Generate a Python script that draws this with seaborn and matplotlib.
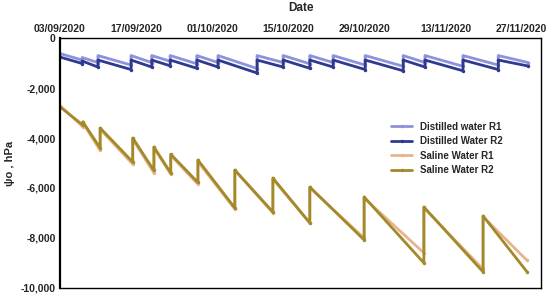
'''
Potentiel osmotique des solutions (eau distillee / eau saline) au cours du temps.
'''

import matplotlib
matplotlib.use("Agg")
import matplotlib.pyplot as plt
import matplotlib.dates as mdates
from matplotlib.ticker import FuncFormatter
import pandas as pd
import seaborn as sns

START = pd.Timestamp("2020-09-03")

# Eau distillee : jours depuis le 03/09 (creux puis pic a chaque apport)
dist_days = [0, 4.1, 4.1, 7.0, 7.0, 13.1, 13.1, 16.9, 16.9, 20.3, 20.3, 25.2, 25.2,
             29.1, 29.1, 36.3, 36.3, 41.1, 41.1, 46.0, 46.0, 50.3, 50.3, 56.2, 56.2,
             63.2, 63.2, 67.2, 67.2, 74.2, 74.2, 80.7, 80.7, 86.2]
dist_r1 = [-620, -880, -780, -980, -700, -1080, -700, -980, -700, -930, -700, -1030, -700,
           -980, -700, -1220, -700, -980, -700, -1030, -700, -980, -700, -1080, -700,
           -1130, -700, -980, -700, -1130, -700, -1080, -700, -980]
dist_r2 = [-760, -1020, -920, -1160, -880, -1260, -880, -1160, -880, -1110, -880, -1210, -880,
           -1160, -880, -1400, -880, -1160, -880, -1210, -880, -1160, -880, -1260, -880,
           -1310, -880, -1160, -880, -1310, -880, -1260, -880, -1120]

# Eau saline
sal_days = [0, 4.2, 4.2, 7.4, 7.4, 13.4, 13.4, 17.3, 17.3, 20.4, 20.4, 25.4, 25.4,
            32.2, 32.2, 39.2, 39.2, 46.0, 46.0, 56.0, 56.0, 67.0, 67.0, 77.9, 77.9, 86.0]
sal_r1 = [-2700, -3550, -3400, -4500, -3650, -5050, -4050, -5400, -4400, -5450, -4700, -5850, -4950,
          -6850, -5300, -7000, -5650, -7400, -6000, -8000, -6400, -8600, -6800, -9250, -7150, -8900]
sal_r2 = [-2750, -3480, -3350, -4400, -3600, -4960, -4000, -5300, -4360, -5400, -4650, -5780, -4880,
          -6800, -5280, -6960, -5600, -7400, -5960, -8080, -6360, -9000, -6760, -9360, -7120, -9360]

tick_dates = ["2020-09-03", "2020-09-17", "2020-10-01", "2020-10-15",
              "2020-10-29", "2020-11-13", "2020-11-27"]

series = [
    ("Distilled water R1", dist_days, dist_r1, "#8e92dc"),
    ("Distilled Water R2", dist_days, dist_r2, "#2f3a8f"),
    ("Saline Water R1", sal_days, sal_r1, "#e9b48c"),
    ("Saline Water R2", sal_days, sal_r2, "#a2892a"),
]

sns.set_style("white")
plt.rcParams['font.family'] = ['Liberation Sans', 'DejaVu Sans']
plt.rcParams['font.weight'] = 'bold'

fig = plt.figure(figsize=(5.5, 2.95), dpi=100)
ax = fig.add_axes([0.109, 0.024, 0.875, 0.847])

for name, days, vals, col in series:
    dates = START + pd.to_timedelta(days, unit="D")
    sns.lineplot(x=dates, y=vals, ax=ax, color=col, linewidth=2.0, label=name,
                 estimator=None, sort=False, marker='o', markersize=2.5,
                 markeredgewidth=0)

ax.set_xlim(START, START + pd.Timedelta(days=88.6))
ax.set_ylim(-10000, 0)
ax.set_yticks(range(-10000, 1, 2000))
ax.yaxis.set_major_formatter(FuncFormatter(lambda v, p: f"{v:,.0f}"))

ax.xaxis.tick_top()
ax.xaxis.set_label_position('top')
ax.set_xticks(pd.to_datetime(tick_dates))
ax.xaxis.set_major_formatter(mdates.DateFormatter("%d/%m/%Y"))
ax.set_xlabel("Date", fontsize=8.5, fontweight='bold', labelpad=9)
ax.set_ylabel("ψo , hPa", fontsize=8, fontweight='bold', labelpad=4)
ax.tick_params(axis='both', labelsize=7.5, length=0, pad=3)

for s in ax.spines.values():
    s.set_color("black")
    s.set_linewidth(1.0)
ax.spines['left'].set_linewidth(1.6)

ax.legend(loc='upper left', bbox_to_anchor=(0.68, 0.68), frameon=False,
          fontsize=7, handlelength=2.2, labelspacing=0.45, borderaxespad=0)

plt.savefig("out.png", dpi=100)
